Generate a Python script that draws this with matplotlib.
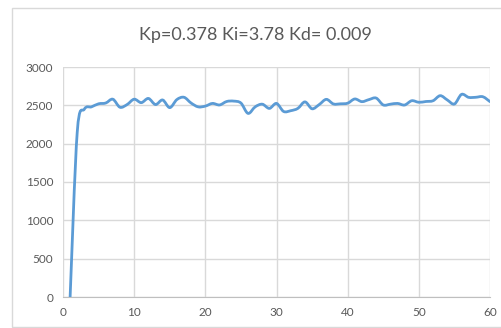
import numpy as np
import matplotlib.pyplot as plt
from matplotlib.path import Path
from matplotlib.patches import PathPatch, Rectangle

plt.rcParams['font.family'] = ['Lato', 'DejaVu Sans']

# step number and measured response
step = np.arange(1, 61)
response = np.array([
    0, 2150, 2450, 2480, 2520, 2530, 2580, 2475, 2510, 2580,
    2535, 2590, 2510, 2570, 2470, 2575, 2605, 2530, 2480, 2490,
    2525, 2505, 2550, 2555, 2530, 2395, 2480, 2515, 2460, 2525,
    2420, 2430, 2460, 2545, 2455, 2510, 2578, 2518, 2520, 2528,
    2583, 2548, 2575, 2595, 2505, 2515, 2525, 2504, 2560, 2540,
    2550, 2560, 2626, 2570, 2517, 2643, 2604, 2605, 2612, 2548,
])
title = "Kp=0.378 Ki=3.78 Kd= 0.009"
xticks = [0, 10, 20, 30, 40, 50, 60]
yticks = [0, 500, 1000, 1500, 2000, 2500, 3000]


def smooth_path(x, y):
    # Catmull-Rom style bezier segments, like a spreadsheet "smoothed line"
    pts = np.column_stack([x, y]).astype(float)
    verts = [pts[0]]
    codes = [Path.MOVETO]
    n = len(pts)
    for i in range(n - 1):
        p0 = pts[max(i - 1, 0)]
        p1 = pts[i]
        p2 = pts[i + 1]
        p3 = pts[min(i + 2, n - 1)]
        c1 = p1 + (p2 - p0) / 6.0
        c2 = p2 - (p3 - p1) / 6.0
        verts += [c1, c2, p2]
        codes += [Path.CURVE4] * 3
    return Path(verts, codes)


fig = plt.figure(figsize=(5.01, 3.28), dpi=100)
fig.patch.set_facecolor('white')

# outer chart frame
fig.patches.append(Rectangle((12 / 501, 1 / 328), 1.2, 319 / 328,
                             transform=fig.transFigure, fill=False,
                             edgecolor='#d9d9d9', linewidth=1.0))

ax = fig.add_axes([63 / 501, 31 / 328, 427 / 501, 230 / 328])
ax.add_patch(PathPatch(smooth_path(step, response), facecolor='none',
                       edgecolor='#5b9bd5', linewidth=2.0,
                       capstyle='round', joinstyle='round', zorder=3))

ax.set_xlim(0, 60)
ax.set_ylim(0, 3000)
ax.set_xticks(xticks)
ax.set_yticks(yticks)
ax.grid(True, color='#d9d9d9', linewidth=1.0)
ax.set_axisbelow(True)
for side in ['top', 'right', 'left']:
    ax.spines[side].set_visible(False)
ax.spines['bottom'].set_color('#bfbfbf')
ax.tick_params(length=0, labelsize=8.5, labelcolor='#595959', pad=7)

fig.text(0.51, 0.893, title, ha='center', va='center',
         fontsize=13, color='#595959')

fig.savefig('out.png', dpi=100)
